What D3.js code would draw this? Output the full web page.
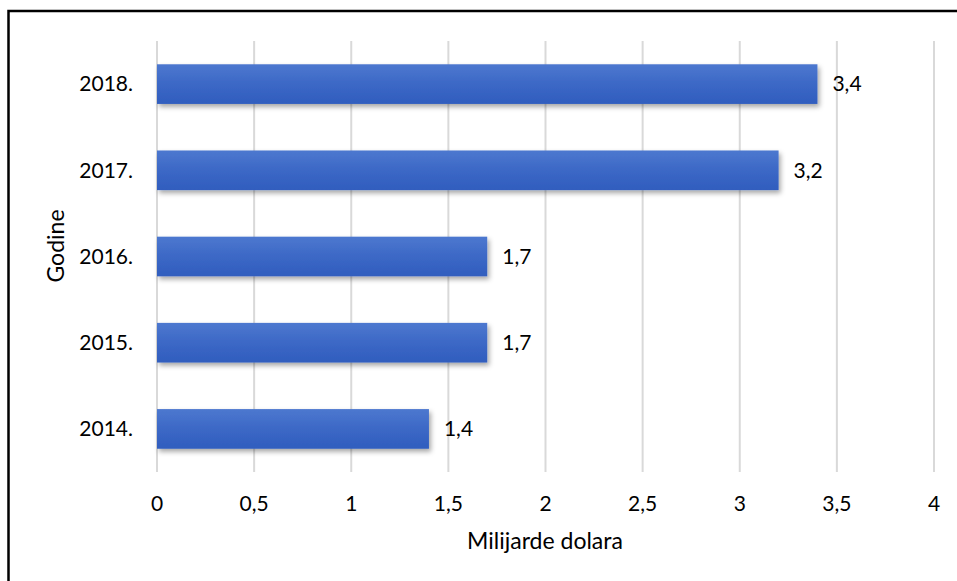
<!DOCTYPE html>
<html><head><meta charset="utf-8">
<script src="https://cdn.jsdelivr.net/npm/d3@7"></script>
<style>body{margin:0;background:#fff;}svg{display:block;}</style>
</head><body>
<svg id="c" width="957" height="581"></svg>
<script>
const categories = ["2018.", "2017.", "2016.", "2015.", "2014."];
const values = [3.4, 3.2, 1.7, 1.7, 1.4];
const xTicks = [0, 0.5, 1, 1.5, 2, 2.5, 3, 3.5, 4];
const xTitle = "Milijarde dolara";
const yTitle = "Godine";

const svg = d3.select("#c");
const font = "Lato, 'Open Sans', sans-serif";
const fmt = v => String(v).replace(".", ",");

svg.append("rect").attr("x", 8.5).attr("y", 11).attr("width", 960).attr("height", 600)
  .attr("fill", "none").attr("stroke", "#000").attr("stroke-width", 2.5);

const defs = svg.append("defs");
const g = defs.append("linearGradient").attr("id", "bg").attr("x1", 0).attr("x2", 0).attr("y1", 0).attr("y2", 1);
g.append("stop").attr("offset", "0%").attr("stop-color", "#4d78cf");
g.append("stop").attr("offset", "50%").attr("stop-color", "#3c68c6");
g.append("stop").attr("offset", "100%").attr("stop-color", "#305dbe");
const f = defs.append("filter").attr("id", "sh").attr("x", "-5%").attr("y", "-20%").attr("width", "115%").attr("height", "160%");
f.append("feDropShadow").attr("dx", 2).attr("dy", 3).attr("stdDeviation", 2.5).attr("flood-color", "#000").attr("flood-opacity", 0.35);

const x = d3.scaleLinear().domain([0, 4]).range([157, 934]);
const y = d3.scaleBand().domain(categories).range([41, 472]).paddingInner(0.54).paddingOuter(0.27);

svg.append("g").selectAll("line").data(xTicks).join("line")
  .attr("x1", d => x(d)).attr("x2", d => x(d)).attr("y1", 41).attr("y2", 472)
  .attr("stroke", "#d9d9d9").attr("stroke-width", 2);

svg.append("g").selectAll("rect").data(values).join("rect")
  .attr("x", x(0)).attr("y", (d, i) => y(categories[i]))
  .attr("width", d => x(d) - x(0)).attr("height", y.bandwidth())
  .attr("fill", "url(#bg)").attr("filter", "url(#sh)");

svg.append("g").selectAll("text").data(values).join("text")
  .attr("x", d => x(d) + 15).attr("y", (d, i) => y(categories[i]) + y.bandwidth() / 2)
  .attr("dy", "0.35em").attr("font-family", font).attr("font-size", 21).attr("fill", "#000")
  .text(d => fmt(d));

svg.append("g").selectAll("text").data(categories).join("text")
  .attr("x", 133).attr("y", d => y(d) + y.bandwidth() / 2).attr("dy", "0.35em")
  .attr("text-anchor", "end").attr("font-family", font).attr("font-size", 21).attr("fill", "#000")
  .text(d => d);

svg.append("g").selectAll("text").data(xTicks).join("text")
  .attr("x", d => x(d)).attr("y", 511).attr("text-anchor", "middle")
  .attr("font-family", font).attr("font-size", 21).attr("fill", "#000")
  .text(d => fmt(d));

svg.append("text").attr("x", 545).attr("y", 549).attr("text-anchor", "middle")
  .attr("font-family", font).attr("font-size", 23).attr("fill", "#000").text(xTitle);

svg.append("text").attr("transform", "translate(64,246) rotate(-90)").attr("text-anchor", "middle")
  .attr("font-family", font).attr("font-size", 23).attr("fill", "#000").text(yTitle);
</script>
</body></html>
